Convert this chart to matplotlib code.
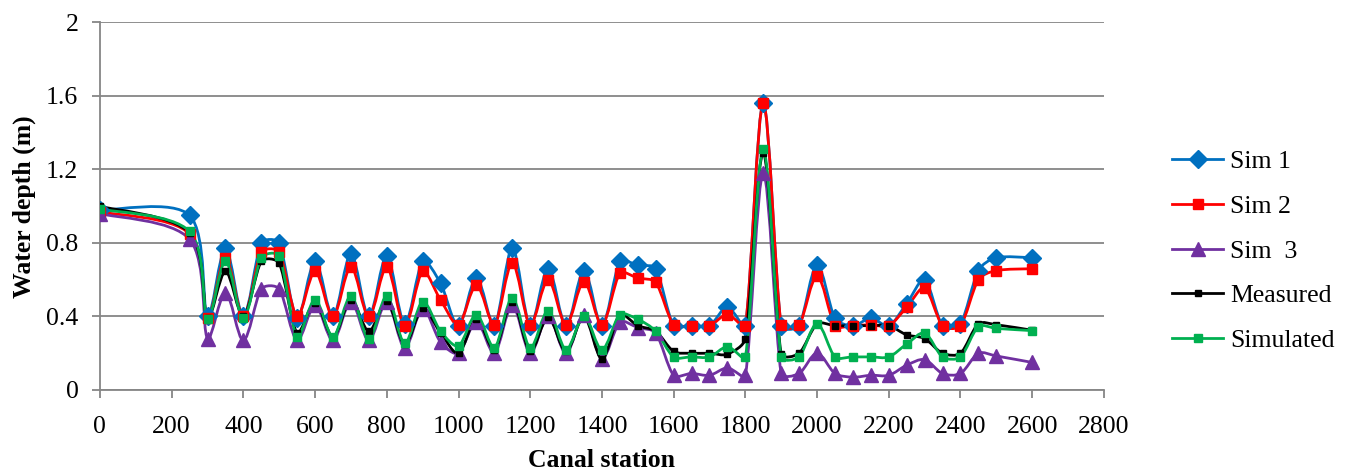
import matplotlib
matplotlib.use("Agg")
import matplotlib.pyplot as plt
import numpy as np
from matplotlib.path import Path
from matplotlib.patches import PathPatch
from matplotlib.lines import Line2D

plt.rcParams['font.family'] = ['Liberation Serif', 'DejaVu Serif']

stations = [0, 250, 300, 350, 400, 450, 500, 550, 600, 650, 700, 750, 800, 850,
            900, 950, 1000, 1050, 1100, 1150, 1200, 1250, 1300, 1350, 1400, 1450,
            1500, 1550, 1600, 1650, 1700, 1750, 1800, 1850, 1900, 1950, 2000, 2050,
            2100, 2150, 2200, 2250, 2300, 2350, 2400, 2450, 2500, 2600]

sim1 = [0.98, 0.95, 0.40, 0.77, 0.40, 0.80, 0.80, 0.39, 0.70, 0.40, 0.74, 0.40, 0.73, 0.36,
        0.70, 0.58, 0.35, 0.61, 0.35, 0.77, 0.35, 0.66, 0.35, 0.65, 0.35, 0.70,
        0.68, 0.66, 0.35, 0.35, 0.35, 0.45, 0.35, 1.56, 0.35, 0.35, 0.68, 0.39,
        0.35, 0.39, 0.35, 0.47, 0.60, 0.35, 0.36, 0.65, 0.72, 0.72]

sim2 = [0.97, 0.85, 0.39, 0.72, 0.40, 0.75, 0.75, 0.40, 0.645, 0.40, 0.67, 0.40, 0.67, 0.35,
        0.645, 0.49, 0.355, 0.57, 0.355, 0.69, 0.355, 0.60, 0.355, 0.59, 0.355, 0.635,
        0.61, 0.585, 0.355, 0.35, 0.35, 0.41, 0.35, 1.56, 0.355, 0.355, 0.62, 0.35,
        0.35, 0.355, 0.35, 0.45, 0.555, 0.35, 0.35, 0.60, 0.65, 0.66]

sim3 = [0.96, 0.82, 0.28, 0.53, 0.27, 0.55, 0.55, 0.27, 0.46, 0.27, 0.48, 0.27, 0.48, 0.23,
        0.44, 0.26, 0.20, 0.37, 0.20, 0.46, 0.20, 0.40, 0.20, 0.41, 0.17, 0.37,
        0.34, 0.31, 0.08, 0.09, 0.08, 0.12, 0.08, 1.18, 0.09, 0.09, 0.20, 0.09,
        0.07, 0.08, 0.08, 0.135, 0.165, 0.09, 0.09, 0.20, 0.185, 0.15]

measured = [1.00, 0.855, 0.39, 0.645, 0.40, 0.70, 0.69, 0.31, 0.475, 0.29, 0.49, 0.32, 0.485, 0.25,
            0.445, 0.31, 0.20, 0.385, 0.22, 0.48, 0.21, 0.395, 0.21, 0.40, 0.17, 0.41,
            0.35, 0.32, 0.21, 0.20, 0.20, 0.195, 0.28, 1.29, 0.196, 0.20, 0.36, 0.35,
            0.35, 0.35, 0.35, 0.30, 0.28, 0.20, 0.20, 0.36, 0.355, 0.325]

simulated = [0.985, 0.863, 0.385, 0.70, 0.39, 0.72, 0.73, 0.29, 0.49, 0.29, 0.51, 0.28, 0.51, 0.255,
             0.48, 0.32, 0.24, 0.41, 0.23, 0.50, 0.23, 0.43, 0.22, 0.40, 0.22, 0.41,
             0.385, 0.32, 0.18, 0.18, 0.18, 0.235, 0.18, 1.31, 0.18, 0.18, 0.36, 0.18,
             0.18, 0.18, 0.18, 0.25, 0.31, 0.18, 0.18, 0.345, 0.335, 0.323]

series_names = ["Sim 1", "Sim 2", "Sim  3", "Measured", "Simulated"]
series_values = [sim1, sim2, sim3, measured, simulated]
colors = ["#0070C0", "#FF0000", "#7030A0", "#000000", "#00B050"]
markers = ["D", "s", "^", "s", "s"]
msizes = [9.5, 6.5, 10, 3.8, 5.5]

FS = 18.5

fig = plt.figure(figsize=(13.56, 4.73), dpi=100)
ax = fig.add_axes([0.0737, 0.1755, 0.7404, 0.777])
ax.set_xlim(0, 2800)
ax.set_ylim(0, 2)


def smooth_path(ax, x, y):
    # spreadsheet-style smoothed line: bezier segments with Catmull-Rom
    # tangents, shortened next to short segments (computed in pixel space)
    P = ax.transData.transform(np.column_stack([x, y]).astype(float))
    n = len(P)
    seg = np.linalg.norm(np.diff(P, axis=0), axis=1)
    tang = np.zeros_like(P)
    for i in range(n):
        a = P[i - 1] if i > 0 else P[i]
        b = P[i + 1] if i < n - 1 else P[i]
        tang[i] = (b - a) / 6.0
    verts = [P[0]]
    codes = [Path.MOVETO]
    for i in range(n - 1):
        d = seg[i]
        dprev = seg[i - 1] if i > 0 else d
        dnext = seg[i + 1] if i + 1 < n - 1 else d
        s1 = min(1.0, 2 * d / (d + dprev))
        s2 = min(1.0, 2 * d / (d + dnext))
        c1 = P[i] + tang[i] * s1
        c2 = P[i + 1] - tang[i + 1] * s2
        verts += [c1, c2, P[i + 1]]
        codes += [Path.CURVE4] * 3
    verts = ax.transData.inverted().transform(np.array(verts))
    return Path(verts, codes)


handles = []
for name, vals, c, m, ms in zip(series_names, series_values, colors, markers, msizes):
    patch = PathPatch(smooth_path(ax, stations, vals), facecolor='none', edgecolor=c,
                      lw=2.0, zorder=3, transform=ax.transData)
    ax.add_patch(patch)
    ax.plot(stations, vals, linestyle='none', marker=m, markersize=ms, color=c,
            markeredgecolor=c, zorder=4)
    handles.append(Line2D([0], [0], color=c, lw=2.0, marker=m, markersize=ms,
                          markeredgecolor=c))

ax.set_xticks(np.arange(0, 2801, 200))
ax.set_yticks([0, 0.4, 0.8, 1.2, 1.6, 2.0])
ax.set_yticklabels(["0", "0.4", "0.8", "1.2", "1.6", "2"])
ax.grid(axis='y', color='#868686', lw=1.3)
ax.set_axisbelow(True)
for s in ['top', 'right']:
    ax.spines[s].set_visible(False)
for s in ['left', 'bottom']:
    ax.spines[s].set_color('#868686')
    ax.spines[s].set_linewidth(1.3)
ax.tick_params(axis='both', colors='#868686', labelcolor='black', labelsize=FS,
               length=5.5, width=1.3, direction='out')
ax.tick_params(axis='y', pad=10)
ax.tick_params(axis='x', pad=13)
ax.set_xlabel("Canal station", fontsize=FS, fontweight='bold', labelpad=8)
ax.set_ylabel("Water depth (m)", fontsize=FS, fontweight='bold', labelpad=7)

leg = fig.legend(handles, series_names, loc='upper left',
                 bbox_to_anchor=(0.8643, 0.682), frameon=False, fontsize=FS,
                 handlelength=2.0, handletextpad=0.25, labelspacing=0.84,
                 borderpad=0, borderaxespad=0)

fig.savefig("out.png", dpi=100)
